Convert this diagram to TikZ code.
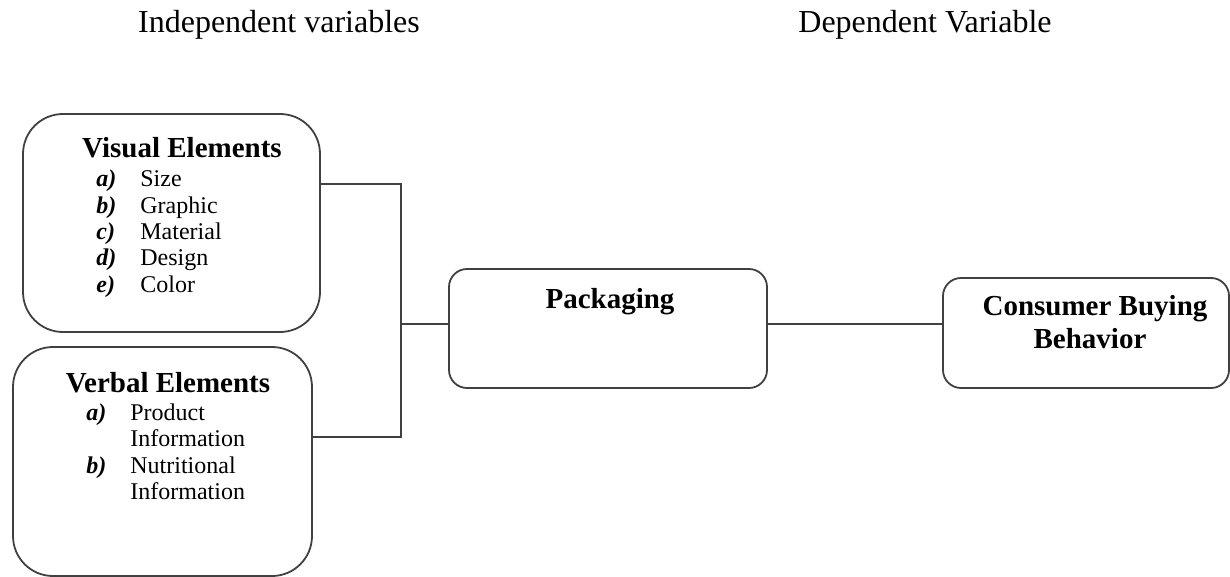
\documentclass[tikz,border=0pt]{standalone}
\usepackage{fontspec}
\setmainfont{Liberation Serif}
\usetikzlibrary{positioning}
\newcommand{\clrline}{black!75}

\begin{document}
\begin{tikzpicture}[x=0.5pt, y=-0.5pt,
    box/.style={draw=\clrline, line width=0.9pt, rounded corners=#1, inner sep=0pt},
    box/.default=20pt,
    conn/.style={draw=\clrline, line width=0.9pt},
    title/.style={anchor=base, inner sep=0pt, font=\fontsize{16}{19}\selectfont},
    head/.style={anchor=base, inner sep=0pt, font=\fontsize{14.5}{16}\selectfont\bfseries},
    item/.style={anchor=base west, inner sep=0pt, font=\fontsize{12}{14}\selectfont},
    lab/.style={anchor=base west, inner sep=0pt, font=\fontsize{12}{14}\selectfont\bfseries\itshape}]
    \useasboundingbox (0,0) rectangle (1230,577);

    \node[title] (indep) at (279,33) {Independent variables};
    \node[title] (dep) at (925,33) {Dependent Variable};

    % boxes
    \node[box, minimum width=148.5pt, minimum height=109pt] (vis) at (171.5,223) {};
    \node[box, minimum width=149.5pt, minimum height=114.5pt] (verb) at (162.5,461.5) {};
    \node[box=9pt, minimum width=159pt, minimum height=59.5pt] (pack) at (608,328.5) {};
    \node[box=9pt, minimum width=143pt, minimum height=55pt] (cons) at (1086,333) {};

    % visual elements
    \node[head] (vishead) at (182,158) {Visual Elements};
    \foreach \lab/\txt [count=\i from 0] in {a/Size,b/Graphic,c/Material,d/Design,e/Color} {
        \node[lab] (visl\lab) at (96,187+\i*26.3) {\lab)};
        \node[item] (vis\lab) at (140,187+\i*26.3) {\txt};
    }

    % verbal elements
    \node[head] (verbhead) at (168,392) {Verbal Elements};
    \node[lab] (verbla) at (86,420) {a)};
    \node[item] (verba) at (130,420) {Product};
    \node[item] (verbaa) at (130,446) {Information};
    \node[lab] (verblb) at (86,473) {b)};
    \node[item] (verbb) at (130,473) {Nutritional};
    \node[item] (verbbb) at (130,499) {Information};

    \node[head] (packtxt) at (610,308) {Packaging};
    \node[head] (constxt) at (1095,315) {Consumer Buying};
    \node[head] (constxtb) at (1090,348) {Behavior};

    % connectors
    \coordinate (bus) at (401,324);
    \path (vis.east) ++(0,-39) coordinate (visout);
    \path (verb.east) ++(0,-24.5) coordinate (verbout);
    \draw[conn] (visout) -| (bus) |- (verbout);
    \draw[conn] (bus) -- (bus -| pack.west);
    \draw[conn] (pack.east |- bus) -- (cons.west |- bus);
\end{tikzpicture}
\end{document}
